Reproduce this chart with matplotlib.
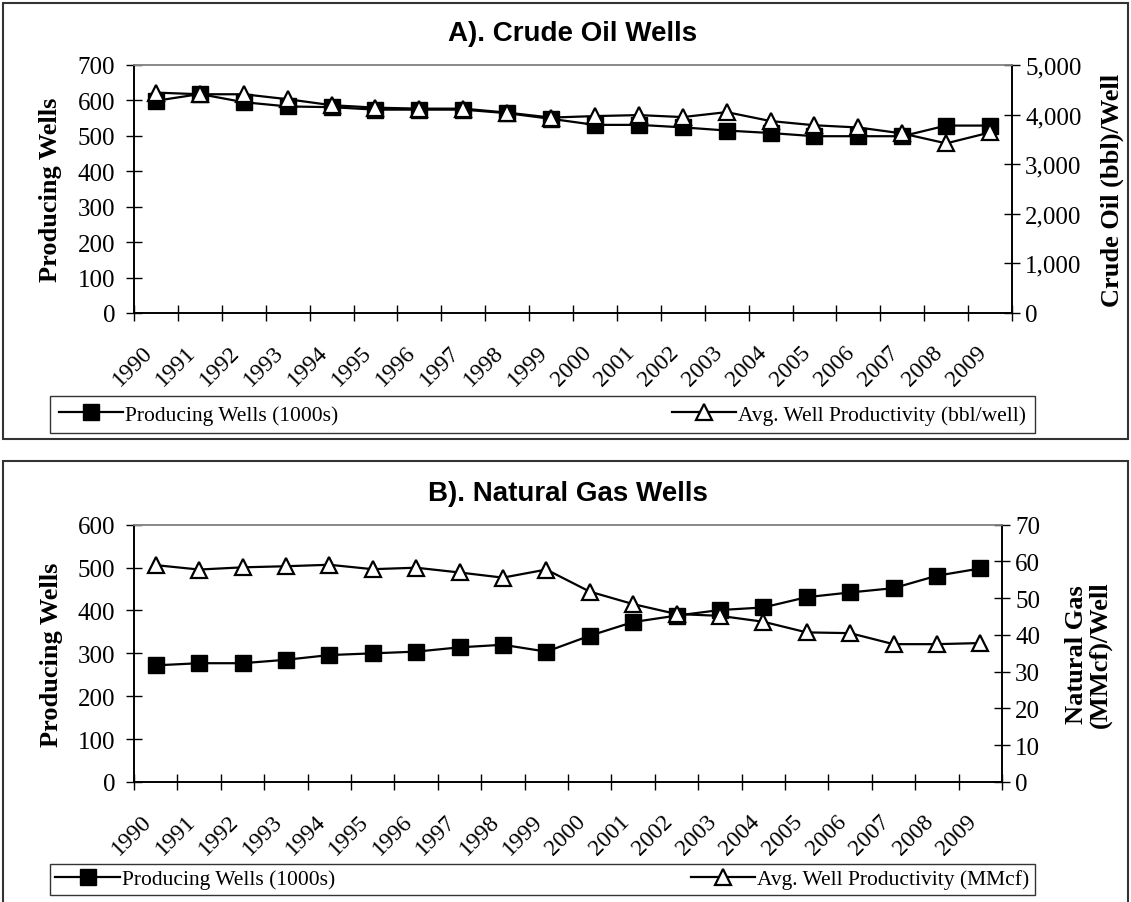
import matplotlib
matplotlib.use("Agg")
import matplotlib.pyplot as plt
import numpy as np
from matplotlib.ticker import FuncFormatter
from matplotlib.patches import Rectangle

years = [str(y) for y in range(1990, 2010)]

# A) crude oil
oil_wells = [599, 618, 595, 583, 581, 574, 574, 574, 564, 548,
             531, 531, 524, 515, 508, 499, 499, 499, 529, 529]
oil_prod = [4444, 4410, 4410, 4310, 4190, 4140, 4120, 4120, 4040, 3940,
            3970, 3990, 3950, 4050, 3870, 3785, 3740, 3620, 3420, 3640]

# B) natural gas
gas_wells = [272, 277, 277, 285, 296, 300, 304, 314, 320, 304,
             341, 373, 388, 401, 407, 431, 442, 452, 481, 498]
gas_prod = [59.0, 57.8, 58.4, 58.7, 59.1, 57.9, 58.3, 57.0, 55.6, 57.8,
            51.8, 48.4, 45.7, 45.2, 43.6, 40.7, 40.5, 37.5, 37.5, 37.8]

serif = "Liberation Serif"
sans = "Liberation Sans"
TICK = 18

W, H = 1131, 903
fig = plt.figure(figsize=(W / 100, H / 100), dpi=100)

# outer frames
fig.patches.append(Rectangle((3 / W, 1 - 440 / H), 1125 / W, 436 / H, transform=fig.transFigure,
                             fill=False, ec="#333333", lw=1.5))
fig.patches.append(Rectangle((3 / W, -0.05), 1125 / W, 0.05 + (903 - 462) / H, transform=fig.transFigure,
                             fill=False, ec="#333333", lw=1.5))


def panel(rect, wells, prod, ymax, ymax2, step2, fmt2, title, rlabel, rlabel_x, legtxt, legtop, legpad):
    ax = fig.add_axes(rect)
    x = np.arange(len(years)) + 0.5
    l1, = ax.plot(x, wells, color="black", lw=1.6, marker="s", ms=11.5,
                  mfc="black", mec="black")
    ax2 = ax.twinx()
    l2, = ax2.plot(x, prod, color="black", lw=1.6, marker="^", ms=12,
                   mfc="white", mec="black", mew=1.6)
    ax.set_xlim(0, len(years))
    ax.set_ylim(0, ymax)
    ax2.set_ylim(0, ymax2)
    ax.set_yticks(np.arange(0, ymax + 1, 100))
    ax2.set_yticks(np.arange(0, ymax2 + 1, step2))
    ax2.yaxis.set_major_formatter(FuncFormatter(fmt2))
    ax.set_xticks(np.arange(0, len(years) + 1))
    ax.set_xticklabels([])
    for xi, lab in zip(x, years):
        ax.annotate(lab, (xi, 0), xycoords=("data", "axes fraction"),
                    xytext=(-5, -26), textcoords="offset points",
                    rotation=45, rotation_mode="anchor", ha="right", va="center",
                    fontsize=17, family=serif)
    for a in (ax, ax2):
        a.tick_params(direction="inout", length=11, width=1, labelsize=TICK, pad=8)
        for lab in a.get_yticklabels():
            lab.set_family(serif)
        for s in a.spines.values():
            s.set_linewidth(1.2)
        a.spines["top"].set_color("#888888")
    ax2.tick_params(pad=4)
    ax.set_ylabel("Producing Wells", fontsize=19, family=serif, fontweight="bold")
    ax.yaxis.set_label_coords(-0.082, 0.5)
    ax2.set_ylabel(rlabel, fontsize=19, family=serif, fontweight="bold",
                   rotation=90, linespacing=1.0)
    ax2.yaxis.set_label_coords(rlabel_x, 0.5)
    fig.text(rect[0] + rect[2] / 2, rect[1] + rect[3] + 0.035, title,
             ha="center", va="center", fontsize=20, family=sans, fontweight="bold")
    leg = fig.legend([l1, l2], legtxt, loc="upper left", ncol=2, mode="expand",
                     bbox_to_anchor=(50 / W, 1 - legtop / H, 985 / W, 0.0001),
                     prop={"family": serif, "size": 15.5}, frameon=True, fancybox=False,
                     edgecolor="black", borderpad=legpad, handlelength=3.0,
                     handletextpad=0.1, borderaxespad=0)
    leg.get_frame().set_linewidth(1.0)
    return ax


panel([134 / W, 1 - 314 / H, 878 / W, 248 / H], oil_wells, oil_prod, 700, 5000, 1000,
      lambda v, p: f"{int(v):,}", "A). Crude Oil Wells", "Crude Oil (bbl)/Well", 1.101,
      ["Producing Wells (1000s)", "Avg. Well Productivity (bbl/well)"], 397, 0.4)

panel([134 / W, 1 - 783 / H, 868 / W, 257.3 / H], gas_wells, gas_prod, 600, 70, 10,
      lambda v, p: f"{int(v)}", "B). Natural Gas Wells", "Natural Gas\n(MMcf)/Well", 1.073,
      ["Producing Wells (1000s)", "Avg. Well Productivity (MMcf)"], 865, 0.25)

fig.savefig("out.png", dpi=100)
